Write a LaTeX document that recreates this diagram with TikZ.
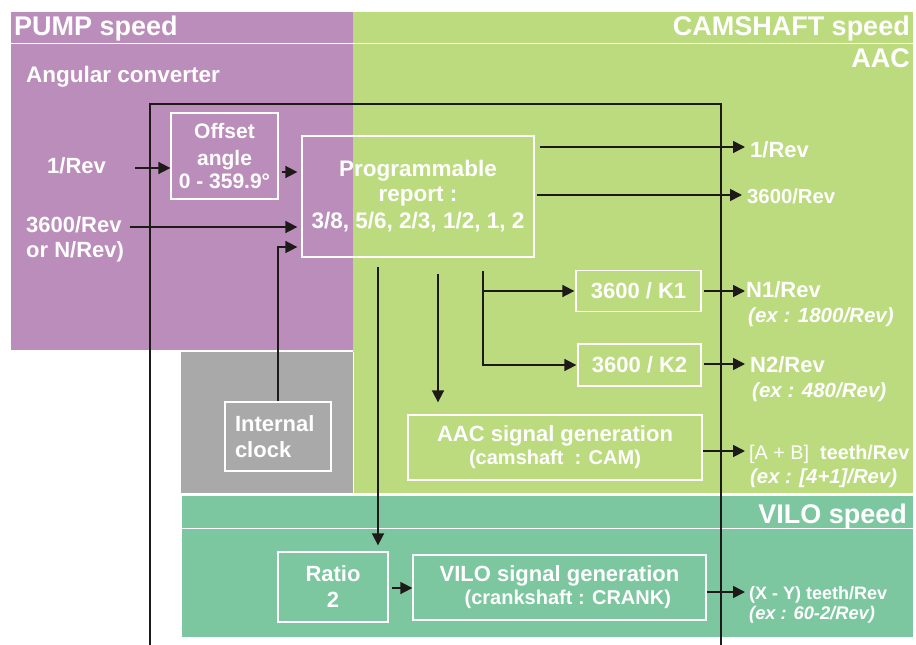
\documentclass[tikz,border=0pt]{standalone}
\usepackage{fontspec}
\setmainfont{Liberation Sans}
\usetikzlibrary{arrows.meta}
\definecolor{pumpc}{HTML}{BB8DBA}
\definecolor{camc}{HTML}{BBDB7E}
\definecolor{grayc}{HTML}{A9A9A9}
\definecolor{viloc}{HTML}{7CC6A0}
\definecolor{inkc}{HTML}{1E1A1A}
\newcommand{\fsz}[2]{\fontsize{#1}{#2}\selectfont}
\tikzset{
  title/.style={text=white,font=\bfseries\fsz{27}{30},inner sep=0pt},
  lab/.style={text=white,font=\bfseries\fsz{22}{26},inner sep=0pt},
  box/.style={draw=white,line width=1.3pt,text=white,inner sep=0pt,align=center,font=\bfseries\fsz{22}{26}},
  arr/.style={draw=inkc,line width=1.7pt,-{Triangle[length=12pt,width=12pt]}},
  frame/.style={draw=inkc,line width=2.6pt},
  sep/.style={draw=white,line width=1pt}
}
\begin{document}
\begin{tikzpicture}[x=1pt,y=-1pt]
\useasboundingbox (0,0) rectangle (916,645);
% regions
\fill[pumpc] (11,12) rectangle (353,350);
\fill[camc] (353,12) rectangle (913,493);
\fill[grayc] (181,352) rectangle (353,493);
\fill[viloc] (182,496) rectangle (913,637);
\draw[sep] (11,43) -- (913,43);
\draw[sep] (182,528) -- (913,528);
\draw[white,line width=0.6pt] (353,352) -- (353,493);
% titles
\node[title,anchor=base west] (pump) at (14,35) {PUMP speed};
\node[title,anchor=base east] (cam) at (910,35) {CAMSHAFT speed};
\node[title,anchor=base east] (aacT) at (910,67) {AAC};
\node[title,anchor=base east] (viloT) at (907,523) {VILO speed};
\node[lab,anchor=base west,font=\bfseries\fsz{22.5}{26}] (ang) at (26,82) {Angular converter};
% big frame
\coordinate (fbl) at (150,645);
\coordinate (ftl) at (150,104);
\coordinate (ftr) at (721,104);
\coordinate (fbr) at (721,645);
\draw[frame] (fbl) -- (ftl) -- (ftr) -- (fbr);
% boxes
\node[box,minimum width=107pt,minimum height=86pt,font=\bfseries\fsz{21}{27}] (offset) at (224.5,156) {Offset\\angle\\[-4pt]0 - 359.9°};
\node[box,minimum width=232pt,minimum height=121pt,font=\bfseries\fsz{22.5}{25}] (prog) at (418,196.5) {Programmable\\report :\\[2pt]3/8, 5/6, 2/3, 1/2, 1, 2};
\node[box,minimum width=125pt,minimum height=41pt] (k1) at (638.5,291) {3600 / K1};
\node[box,minimum width=123pt,minimum height=42pt] (k2) at (639.5,365) {3600 / K2};
\node[box,minimum width=294pt,minimum height=65pt] (aac) at (555,447.5) {AAC signal generation\\[-3pt]{\fsz{20}{23}(camshaft\ \ : CAM)}};
\node[box,minimum height=69pt,text width=86pt,inner xsep=10pt,align=left] (clock) at (278,436.5) {Internal\\clock};
\node[box,minimum width=110pt,minimum height=70pt] (ratio) at (333,587) {Ratio\\2};
\node[box,minimum width=293pt,minimum height=65pt] (vilo) at (559.5,587.5) {VILO signal generation\\[-3pt]{\fsz{20}{23}\ \ \ (crankshaft : CRANK)}};
% input labels
\node[lab,anchor=base west] (in1) at (47,173) {1/Rev};
\node[lab,anchor=base west,align=left] (in2) at (26,232) {3600/Rev};
\node[lab,anchor=base west] (in2b) at (26,257) {or N/Rev)};
% output labels
\node[lab,anchor=base west] (o1) at (750,157) {1/Rev};
\node[lab,anchor=base west,font=\bfseries\fsz{20.3}{24}] (o2) at (747,203) {3600/Rev};
\node[lab,anchor=base west] (n1) at (746,297) {N1/Rev};
\node[lab,anchor=base west,font=\bfseries\itshape\fsz{20.5}{24}] (n1x) at (748,322) {(ex : 1800/Rev)};
\node[lab,anchor=base west] (n2) at (750,372) {N2/Rev};
\node[lab,anchor=base west,font=\bfseries\itshape\fsz{20.5}{24}] (n2x) at (752,397) {(ex : 480/Rev)};
\node[lab,anchor=base west,font=\bfseries\fsz{19.8}{24}] (ab) at (749,459) {{\mdseries [A + B]}\ \ teeth/Rev};
\node[lab,anchor=base west,font=\bfseries\itshape\fsz{20.3}{24}] (abx) at (750,483) {(ex : [4+1]/Rev)};
\node[lab,anchor=base west,font=\bfseries\fsz{18}{22}] (xy) at (749,599) {(X - Y) teeth/Rev};
\node[lab,anchor=base west,font=\bfseries\itshape\fsz{18.3}{22}] (xyx) at (749,619) {(ex : 60-2/Rev)};
% connectors
\draw[arr] ([xshift=29pt]in1.east |- 0,168) -- (offset.west |- 0,168);
\draw[arr,shorten >=4pt] ([xshift=3pt]offset.east |- 0,172) -- (prog.west |- 0,172);
\draw[arr,shorten >=4pt] ([xshift=8pt]in2.east |- 0,227) -- (prog.west |- 0,227);
\draw[arr,shorten >=4pt] (clock.north) |- (prog.west |- 0,247);
\draw[arr] ([xshift=5pt]prog.east |- 0,147) -- ([xshift=-5pt]o1.west |- 0,147);
\draw[arr] ([xshift=2pt]prog.east |- 0,195) -- ([xshift=-5pt]o2.west |- 0,195);
\draw[arr,shorten <=9pt,shorten >=6pt] (prog.south -| 378,0) -- (ratio.north -| 378,0);
\draw[arr,shorten <=16pt,shorten >=12pt] (prog.south -| 438,0) -- (aac.north -| 438,0);
\draw[arr,shorten >=1pt] ([yshift=-13pt]prog.south -| 483,0) |- (k2.west);
\draw[arr,shorten >=1pt] (k1.west -| 483,0) -- (k1.west);
\draw[arr] ([xshift=2pt]k1.east) -- ([xshift=-1pt]n1.west |- k1.east);
\draw[arr] ([xshift=2pt]k2.east |- 0,364) -- ([xshift=-5pt]n2.west |- 0,364);
\draw[arr] (aac.east |- 0,451) -- ([xshift=-4pt]ab.west |- 0,451);
\draw[arr] ([xshift=3pt]ratio.east |- 0,588) -- (vilo.west |- 0,588);
\draw[arr] (vilo.east |- 0,592) -- ([xshift=-4pt]xy.west |- 0,592);
\end{tikzpicture}
\end{document}
